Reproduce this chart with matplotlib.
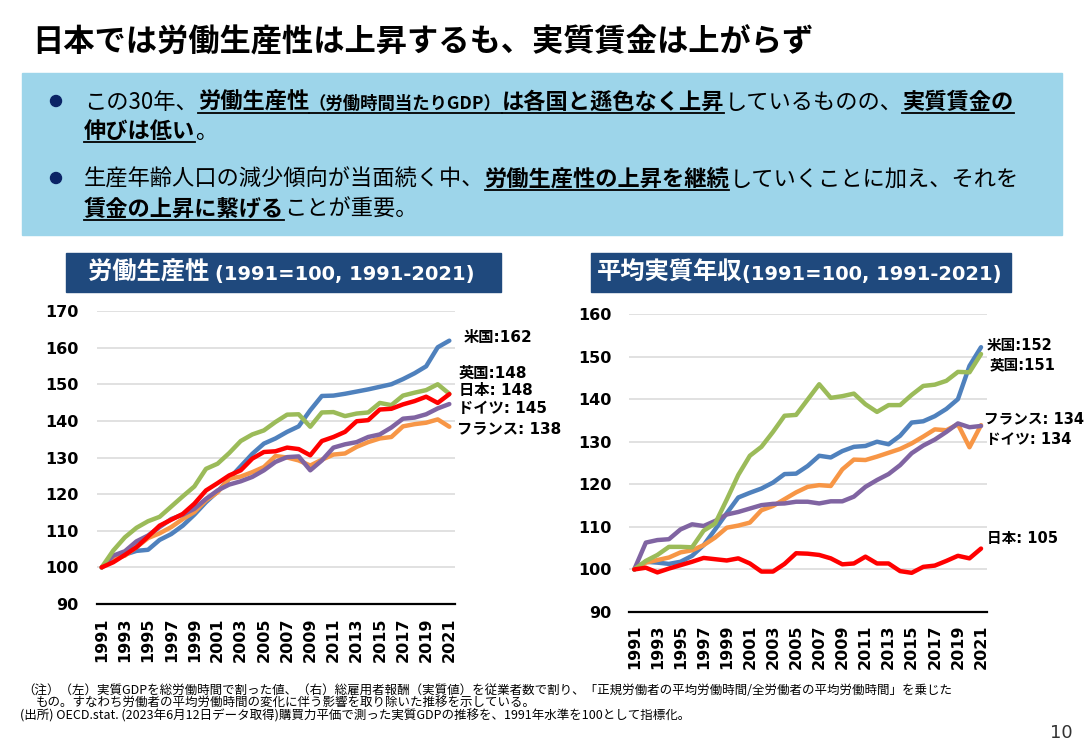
import matplotlib
matplotlib.use("Agg")
from matplotlib import pyplot as plt
from matplotlib.lines import Line2D
from matplotlib.patches import Rectangle, Ellipse

W, H = 1084, 750
JP = ['Noto Sans CJK JP', 'DejaVu Sans']
MIX = ['DejaVu Sans', 'Noto Sans CJK JP']

years = list(range(1991, 2022))
tick_years = list(range(1991, 2022, 2))

# 労働生産性 (1991=100)
prod_us = [100, 102.5, 103.5, 104.5, 104.8, 107.5, 109.1, 111.4, 114.4, 117.8,
           120.7, 124.2, 127.6, 131.0, 133.8, 135.2, 137.0, 138.5, 142.9, 146.8,
           146.9, 147.4, 148.0, 148.6, 149.3, 150.0, 151.4, 153.0, 154.9, 160.1, 161.9]
prod_uk = [100, 104.6, 108.2, 110.8, 112.6, 113.8, 116.6, 119.4, 122.1, 126.9,
           128.3, 131.2, 134.5, 136.3, 137.4, 139.7, 141.7, 141.8, 138.4, 142.3,
           142.4, 141.3, 142.0, 142.3, 144.9, 144.3, 146.9, 147.7, 148.4, 150.0, 147.4]
prod_jp = [100, 101.4, 103.4, 105.5, 108.4, 111.4, 113.0, 114.6, 117.4, 121.0,
           123.0, 125.1, 126.5, 129.7, 131.5, 131.7, 132.7, 132.3, 130.6, 134.5,
           135.6, 137.0, 139.9, 140.2, 143.1, 143.3, 144.5, 145.4, 146.6, 144.9, 147.3]
prod_de = [100, 103.2, 104.4, 107.1, 108.7, 111.0, 113.2, 114.4, 116.0, 118.7,
           121.0, 122.6, 123.5, 124.7, 126.5, 128.8, 130.1, 130.3, 126.5, 129.2,
           132.7, 133.6, 134.2, 135.6, 136.3, 138.2, 140.6, 140.9, 141.8, 143.4, 144.6]
prod_fr = [100, 102.3, 103.2, 105.5, 108.0, 109.3, 111.0, 113.2, 115.1, 118.3,
           120.5, 124.2, 124.8, 126.0, 127.4, 130.4, 130.0, 129.2, 127.8, 129.4,
           130.8, 131.1, 132.9, 134.2, 135.2, 135.6, 138.5, 139.1, 139.5, 140.4, 138.4]

# 平均実質年収 (1991=100)
wage_us = [100, 101.8, 101.6, 101.3, 101.8, 103.2, 105.7, 109.4, 113.2, 116.9,
           118.0, 119.0, 120.4, 122.4, 122.5, 124.3, 126.7, 126.3, 127.8, 128.8,
           129.0, 130.0, 129.4, 131.4, 134.5, 134.8, 136.0, 137.7, 140.0, 147.8, 152.2]
wage_uk = [100, 102.0, 103.4, 105.3, 105.3, 105.2, 109.1, 110.8, 116.4, 122.2,
           126.7, 128.8, 132.3, 136.1, 136.3, 139.9, 143.5, 140.3, 140.7, 141.3,
           138.8, 137.0, 138.6, 138.6, 141.0, 143.1, 143.4, 144.3, 146.4, 146.3, 150.6]
wage_jp = [100, 100.4, 99.3, 100.2, 101.0, 101.8, 102.7, 102.4, 102.1, 102.6,
           101.4, 99.5, 99.5, 101.3, 103.8, 103.7, 103.4, 102.6, 101.2, 101.4,
           103.0, 101.4, 101.4, 99.6, 99.2, 100.6, 100.9, 102.0, 103.2, 102.6, 104.9]
wage_de = [100, 106.3, 106.9, 107.1, 109.4, 110.6, 110.2, 111.4, 112.9, 113.5,
           114.3, 115.1, 115.4, 115.5, 115.9, 115.9, 115.5, 116.0, 116.0, 117.1,
           119.4, 121.0, 122.4, 124.5, 127.3, 129.1, 130.5, 132.3, 134.3, 133.4, 133.7]
wage_fr = [100, 101.6, 102.2, 102.8, 104.0, 104.5, 105.7, 107.5, 109.8, 110.3,
           111.0, 113.9, 114.9, 116.5, 118.1, 119.4, 119.8, 119.6, 123.5, 125.8,
           125.7, 126.5, 127.4, 128.3, 129.6, 131.2, 132.9, 132.7, 134.1, 128.7, 133.9]

prod_labels = ["米国:162", "英国:148", "日本: 148", "ドイツ: 145", "フランス: 138"]
wage_labels = ["米国:152", "英国:151", "フランス: 134", "ドイツ: 134", "日本: 105"]

C_US, C_UK, C_JP, C_DE, C_FR = '#4F81BD', '#9BBB59', '#FF0000', '#8064A2', '#F79646'


def fx(x):
    return x / W


def fy(y):
    return 1 - y / H


def draw_runs(fig, rend, x, y, runs, color='black'):
    # runs: (text, size, bold, underline, family)
    for text, size, bold, uline, fam in runs:
        t = fig.text(fx(x), fy(y), text, fontsize=size, color=color,
                     fontweight='bold' if bold else 'normal', family=fam,
                     ha='left', va='baseline')
        bb = t.get_window_extent(rend)
        if uline:
            fig.add_artist(Line2D([fx(bb.x0), fx(bb.x1)], [fy(y + 4)] * 2,
                                  color='black', lw=1.3))
        x += bb.width
    return x


def setup_axes(ax, ylo, yhi, ystep, pad_y, pad_x):
    ax.set_xlim(1990.57, 2021.49)
    ax.set_ylim(ylo, yhi)
    ax.set_yticks(range(ylo, yhi + 1, ystep))
    ax.set_xticks(tick_years)
    ax.set_xticklabels([str(y) for y in tick_years], rotation=90)
    for lab in ax.get_xticklabels() + ax.get_yticklabels():
        lab.set_fontweight('bold')
        lab.set_fontsize(11.5)
        lab.set_family('DejaVu Sans')
    ax.tick_params(axis='y', length=0, pad=pad_y)
    ax.tick_params(axis='x', length=0, pad=pad_x)
    for s in ['top', 'right', 'left']:
        ax.spines[s].set_visible(False)
    ax.spines['bottom'].set_color('black')
    ax.spines['bottom'].set_linewidth(1.6)
    ax.grid(axis='y', color='#D9D9D9', lw=1.1)
    ax.set_axisbelow(True)
    ax.patch.set_alpha(0)


fig = plt.figure(figsize=(W / 100, H / 100), dpi=100)
rend = fig.canvas.get_renderer()

# title
fig.text(fx(32), fy(42), "日本では労働生産性は上昇するも、実質賃金は上がらず",
         fontsize=22.5, fontweight='bold', family=JP, ha='left', va='center')

# blue summary box
fig.add_artist(Rectangle((fx(22), fy(235)), fx(1040), 162 / H,
                         transform=fig.transFigure, color='#9DD5EA', zorder=0))
for by in [101, 178]:
    fig.add_artist(Ellipse((fx(56), fy(by)), 11 / W, 11 / H,
                           transform=fig.transFigure, color='#0B2466'))

draw_runs(fig, rend, 84, 109, [
    ("この30年、", 16, False, False, JP),
    ("労働生産性", 16, True, True, JP),
    ("（労働時間当たりGDP）", 12.5, True, True, JP),
    ("は各国と遜色なく上昇", 16, True, True, JP),
    ("しているものの、", 16, False, False, JP),
    ("実質賃金の", 16, True, True, JP),
])
draw_runs(fig, rend, 84, 138, [
    ("伸びは低い", 16, True, True, JP),
    ("。", 16, False, False, JP),
])
draw_runs(fig, rend, 84, 186, [
    ("生産年齢人口の減少傾向が当面続く中、", 16, False, False, JP),
    ("労働生産性の上昇を継続", 16, True, True, JP),
    ("していくことに加え、それを", 16, False, False, JP),
])
draw_runs(fig, rend, 84, 216, [
    ("賃金の上昇に繋げる", 16, True, True, JP),
    ("ことが重要。", 16, False, False, JP),
])

# chart title boxes
NAVY = '#1F497D'
fig.add_artist(Rectangle((fx(66), fy(292)), fx(435), 39 / H,
                         transform=fig.transFigure, color=NAVY))
fig.add_artist(Rectangle((fx(591), fy(292)), fx(420), 39 / H,
                         transform=fig.transFigure, color=NAVY))
draw_runs(fig, rend, 88, 280, [
    ("労働生産性 ", 17.5, True, False, JP),
    ("(1991=100, 1991-2021)", 14, True, False, MIX),
], color='white')
draw_runs(fig, rend, 597, 280, [
    ("平均実質年収", 17.5, True, False, JP),
    ("(1991=100, 1991-2021)", 14, True, False, MIX),
], color='white')

# left chart: productivity
ax1 = fig.add_axes([fx(96.7), fy(604), 358.3 / W, 293 / H])
for vals, c in [(prod_us, C_US), (prod_fr, C_FR), (prod_de, C_DE),
                (prod_uk, C_UK), (prod_jp, C_JP)]:
    ax1.plot(years, vals, color=c, lw=3.2, solid_joinstyle='round',
             solid_capstyle='round')
setup_axes(ax1, 90, 170, 10, 13, 10)
prod_lab_y = [162.9, 153.1, 148.2, 143.5, 138.0]
prod_lab_dx = [1.2, 0.82, 0.82, 0.72, 0.65]
for lab, ly, dx in zip(prod_labels, prod_lab_y, prod_lab_dx):
    ax1.text(2021 + dx, ly, lab, fontsize=11, fontweight='bold', family=MIX,
             ha='left', va='center', clip_on=False)

# right chart: wages
ax2 = fig.add_axes([fx(629.3), fy(612), 357.4 / W, 298 / H])
for vals, c in [(wage_us, C_US), (wage_fr, C_FR), (wage_de, C_DE),
                (wage_uk, C_UK), (wage_jp, C_JP)]:
    ax2.plot(years, vals, color=c, lw=3.2, solid_joinstyle='round',
             solid_capstyle='round')
setup_axes(ax2, 90, 160, 10, 13, 9)
wage_lab_y = [152.7, 148.0, 135.3, 130.5, 107.3]
wage_lab_dx = [0.46, 0.72, 0.28, 0.45, 0.5]
for lab, ly, dx in zip(wage_labels, wage_lab_y, wage_lab_dx):
    ax2.text(2021 + dx, ly, lab, fontsize=10.5, fontweight='bold', family=MIX,
             ha='left', va='center', clip_on=False)

# footnotes
notes = [
    (22, 690, "（注）（左）実質GDPを総労働時間で割った値、（右）総雇用者報酬（実質値）を従業者数で割り、「正規労働者の平均労働時間/全労働者の平均労働時間」を乗じた"),
    (36, 703, "もの。すなわち労働者の平均労働時間の変化に伴う影響を取り除いた推移を示している。"),
    (20, 716, "(出所) OECD.stat. (2023年6月12日データ取得)購買力平価で測った実質GDPの推移を、1991年水準を100として指標化。"),
]
for nx, ny, s in notes:
    fig.text(fx(nx), fy(ny), s, fontsize=9, family=JP, ha='left', va='center')
fig.text(fx(1073), fy(733), "10", fontsize=13, color='#333333',
         family='DejaVu Sans', ha='right', va='center')

fig.savefig("out.png", dpi=100)
